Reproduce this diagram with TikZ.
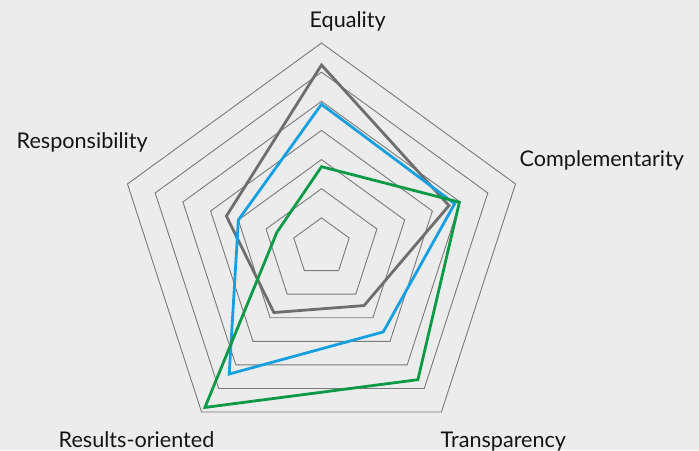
\documentclass[tikz,border=0pt]{standalone}
\usepackage{fontspec}
\setmainfont{Lato}
\definecolor{bg}{RGB}{236,236,236}
\definecolor{gridc}{RGB}{122,122,122}
\definecolor{textc}{RGB}{20,20,20}
\definecolor{sgray}{RGB}{110,110,110}
\definecolor{sblue}{RGB}{22,160,226}
\definecolor{sgreen}{RGB}{12,154,70}
\begin{document}
\begin{tikzpicture}[x=1pt,y=1pt,
  gridline/.style={draw=gridc, line width=0.9pt},
  series/.style={line width=2.8pt, line join=miter},
  lbl/.style={anchor=base west, inner sep=0pt, font=\fontsize{21.6}{24}\selectfont, text=textc}]
\useasboundingbox (-321.5,-203) rectangle (377.5,247);
\fill[bg] (-321.5,-203) rectangle (377.5,247);
% grid pentagons
\foreach \k in {1,...,7}{
  \pgfmathsetmacro{\r}{204*\k/7}
  \draw[gridline] (90:\r pt) -- (18:\r pt) -- (-54:\r pt) -- (-126:\r pt) -- (162:\r pt) -- cycle;
}
% series
\draw[series, sgray] (90:182pt) -- (18:134pt) -- (-54:72.4pt) -- (-126:81pt) -- (162:100pt) -- cycle;
\draw[series, sblue] (90:142.7pt) -- (18:140pt) -- (-54:105pt) -- (-126:157pt) -- (162:87.4pt) -- cycle;
\draw[series, sgreen] (90:80.3pt) -- (18:145pt) -- (-54:164pt) -- (-126:198.3pt) -- (162:47pt) -- cycle;
% labels
\node[lbl] (equality) at (-12,219.5) {Equality};
\node[lbl] (responsibility) at (-305,98.5) {Responsibility};
\node[lbl] (complementarity) at (198,80) {Complementarity};
\node[lbl] (resultslbl) at (-263,-200) {Results-oriented};
\node[lbl] (transparency) at (119,-200) {Transparency};
\end{tikzpicture}
\end{document}
